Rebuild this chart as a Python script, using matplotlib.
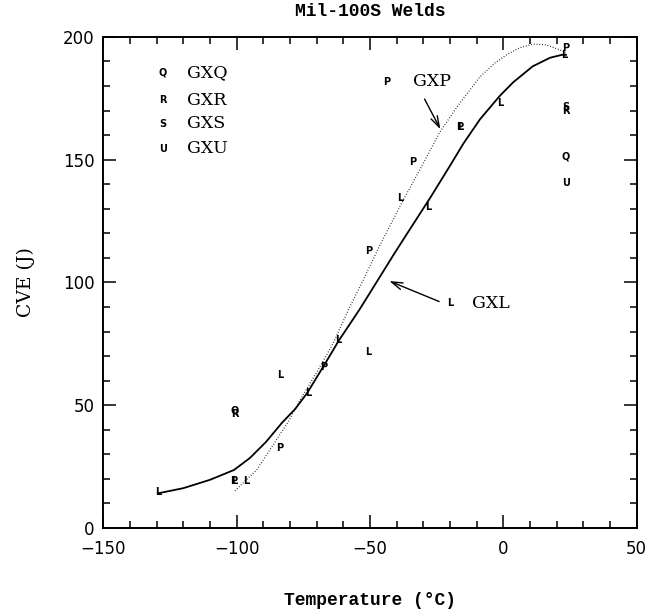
import matplotlib
matplotlib.use("Agg")
import matplotlib.pyplot as plt

# fitted curves
gxl_t = [-129.5, -120, -110, -101, -95, -89, -83, -78, -73.5, -67.5, -61.5, -54,
         -47, -41, -36, -27.5, -20, -15, -8.7, -1.3, 3.7, 11, 17.5, 22, 23.5]
gxl_cve = [14.1, 16.2, 19.6, 23.6, 28.5, 35, 42.8, 48.5, 55, 65.7, 76.6, 88.8,
           101, 111.5, 120, 134.3, 147.5, 156.5, 166.5, 176, 181.5, 188, 191.5, 192.7, 192.7]

gxp_t = [-100.6, -92.5, -86.3, -80.6, -76.2, -69.4, -63.8, -58.1, -52.5, -46.2,
         -37.5, -30, -23.7, -17, -12.5, -8.7, -3, 1.2, 6, 11.2, 16.2, 21.2, 23.5]
gxp_cve = [15.2, 23.6, 33.8, 43.3, 52.1, 64.4, 75.2, 88.8, 101, 115.3,
           133.6, 148.5, 161.4, 172, 178.4, 183.8, 189.5, 192.7, 195.5, 197.1, 196.7, 194.7, 193.7]

# individual test results, plotted as letters
l_t = [-129.5, -101, -96.2, -83.7, -73.1, -61.9, -50.6, -38.7, -28.1, -16.2, -1.3, 23]
l_cve = [14.5, 19, 19, 62.3, 55, 76.6, 71.8, 134.3, 130.9, 163.5, 173, 192.5]
p_t = [-101, -83.7, -67.5, -50.3, -33.8, -16.2, 23.5]
p_cve = [19, 32.5, 65.5, 113, 149.2, 163.5, 195.4]
q_t = [-100.6, 23.5]
q_cve = [48, 151.2]
r_t = [-100.6, 23.5]
r_cve = [46.5, 170]
s_t = [23.5]
s_cve = [171.6]
u_t = [23.5]
u_cve = [140.4]

legend_codes = ["Q", "R", "S", "U"]
legend_names = ["GXQ", "GXR", "GXS", "GXU"]
legend_cve = [185.3, 174.3, 164.6, 154.4]

fig = plt.figure(figsize=(6.49, 6.15), dpi=100)
ax = fig.add_axes([0.159, 0.1415, 0.822, 0.7985])

ax.plot(gxl_t, gxl_cve, color="black", lw=1.3, solid_joinstyle="round")
ax.plot(gxp_t, gxp_cve, color="black", lw=0.9, ls=(0, (0.6, 1.6)))

letter_kw = dict(ha="center", va="center", fontsize=7, fontweight="bold",
                 family="DejaVu Sans")
for code, ts, cs in [("L", l_t, l_cve), ("P", p_t, p_cve), ("Q", q_t, q_cve),
                     ("R", r_t, r_cve), ("S", s_t, s_cve), ("U", u_t, u_cve)]:
    for t, c in zip(ts, cs):
        ax.text(t, c, code, **letter_kw)

# legend block
for code, name, c in zip(legend_codes, legend_names, legend_cve):
    ax.text(-127.6, c, code, **letter_kw)
    ax.text(-118.6, c, name, ha="left", va="center", fontsize=12.5,
            family="DejaVu Serif")

# curve labels with arrows
ax.text(-43.7, 181.8, "P", **letter_kw)
ax.text(-33.9, 181.8, "GXP", ha="left", va="center", fontsize=12.5, family="DejaVu Serif")
ax.annotate("", xy=(-23.1, 161.4), xytext=(-30, 175.7),
            arrowprops=dict(arrowstyle="->,head_length=0.8,head_width=0.25", color="black", lw=1.0))
ax.text(-20, 91.5, "L", **letter_kw)
ax.text(-11.9, 91.5, "GXL", ha="left", va="center", fontsize=12.5, family="DejaVu Serif")
ax.annotate("", xy=(-43.7, 101), xytext=(-23.1, 91.8),
            arrowprops=dict(arrowstyle="->,head_length=0.8,head_width=0.25", color="black", lw=1.0))

ax.set_xlim(-150, 50)
ax.set_ylim(0, 200)
ax.set_xticks([-150, -100, -50, 0, 50])
ax.set_yticks([0, 50, 100, 150, 200])
ax.set_xticks(range(-150, 51, 10), minor=True)
ax.set_yticks(range(0, 201, 10), minor=True)
ax.tick_params(which="both", direction="in", top=True, right=True, width=1.1,
               labelsize=12)
ax.tick_params(axis="x", which="both", pad=9)
ax.tick_params(axis="y", which="both", pad=6)
ax.tick_params(which="major", length=9.5)
ax.tick_params(which="minor", length=5)
for lab in ax.get_xticklabels() + ax.get_yticklabels():
    lab.set_family("DejaVu Sans")
for sp in ax.spines.values():
    sp.set_linewidth(1.4)

ax.set_title("Mil-100S Welds", family="Liberation Mono", fontweight="bold",
             fontsize=13, pad=15)
ax.set_xlabel("Temperature (°C)", family="Liberation Mono", fontweight="bold",
              fontsize=13, labelpad=24)
ax.set_ylabel("CVE (J)", family="DejaVu Serif", fontsize=13.5, labelpad=20)

fig.savefig("out.png", dpi=100)
